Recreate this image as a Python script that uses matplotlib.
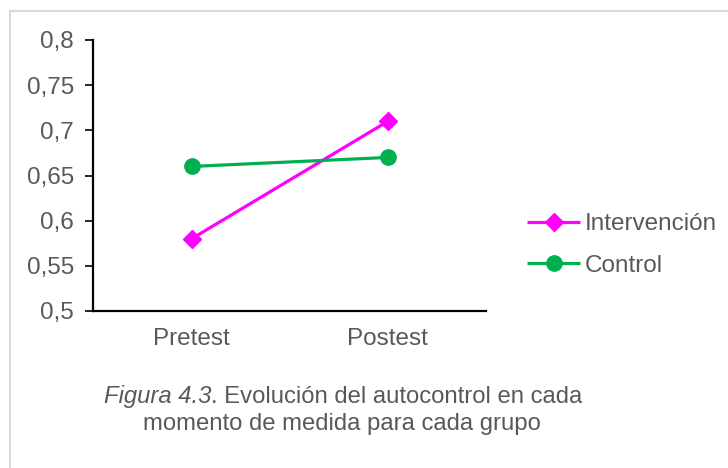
import matplotlib
matplotlib.use("Agg")
import matplotlib.pyplot as plt
from matplotlib.patches import Rectangle
from matplotlib.ticker import FixedLocator, FuncFormatter

plt.rcParams['font.family'] = ['Liberation Sans', 'DejaVu Sans']

categories = ["Pretest", "Postest"]
intervencion = [0.58, 0.71]
control = [0.66, 0.67]
y_ticks = [0.5, 0.55, 0.6, 0.65, 0.7, 0.75, 0.8]

W, H = 728, 468
fig = plt.figure(figsize=(W / 100, H / 100), dpi=100)

# light frame around the chart area
fig.patches.append(Rectangle((9.5 / W, -0.1), 1.2, (H - 10.5) / H + 0.1,
                             transform=fig.transFigure, fill=False,
                             edgecolor="#D9D9D9", linewidth=1.5))

ax = fig.add_axes([93.5 / W, (H - 311) / H, 392.5 / W, 271 / H])

x = [0.5, 1.5]
ax.plot(x, intervencion, color="#FF00FF", linewidth=2.3, marker="D",
        markersize=9, label="Intervención", solid_capstyle="butt")
ax.plot(x, control, color="#00B050", linewidth=2.3, marker="o",
        markersize=11, label="Control", solid_capstyle="butt")

ax.set_xlim(0, 2)
ax.set_ylim(0.5, 0.8)
ax.set_xticks(x)
ax.set_xticklabels(categories)
ax.yaxis.set_major_locator(FixedLocator(y_ticks))
ax.yaxis.set_major_formatter(FuncFormatter(
    lambda v, p: ("%g" % round(v, 2)).replace(".", ",")))

for s in ("top", "right"):
    ax.spines[s].set_visible(False)
for s in ("left", "bottom"):
    ax.spines[s].set_linewidth(1.6)
    ax.spines[s].set_color("black")

ax.tick_params(axis="y", length=6, width=1.2, color="black", pad=8,
               labelsize=17.5, labelcolor="#595959")
ax.tick_params(axis="x", length=0, pad=12, labelsize=17.5, labelcolor="#595959")

leg = ax.legend(loc="center left", bbox_to_anchor=(1.1045, 0.243),
                frameon=False, fontsize=17.5, handlelength=2.18,
                handletextpad=0.2, labelspacing=0.8, borderpad=0,
                borderaxespad=0)
for t in leg.get_texts():
    t.set_color("#595959")

cap_size = 17.2
cap1_it = "Figura 4.3"
cap1_rest = ". Evolución del autocontrol en cada"
t1 = fig.text(0, 1 - 397 / H, cap1_it, fontsize=cap_size, style="italic",
              color="#595959", va="center", ha="left")
t2 = fig.text(0, 1 - 397 / H, cap1_rest, fontsize=cap_size, color="#595959",
              va="center", ha="left")
fig.canvas.draw()
r = fig.canvas.get_renderer()
w1 = t1.get_window_extent(r).width
w2 = t2.get_window_extent(r).width
start = 343 - (w1 + w2) / 2
t1.set_x(start / W)
t2.set_x((start + w1) / W)
fig.text(342 / W, 1 - 424 / H, "momento de medida para cada grupo",
         fontsize=cap_size, color="#595959", va="center", ha="center")

fig.savefig("out.png", dpi=100)
